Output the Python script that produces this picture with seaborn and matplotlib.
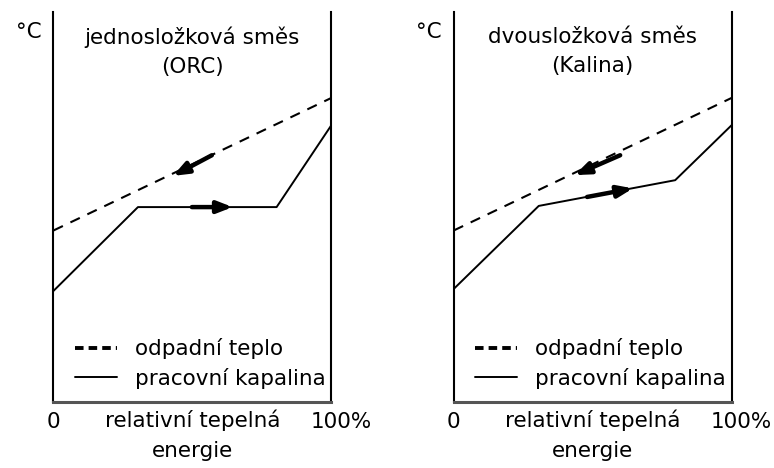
import numpy as np
import pandas as pd
import matplotlib
matplotlib.use("Agg")
import matplotlib.pyplot as plt
import matplotlib.transforms as mtransforms
import seaborn as sns

# ---------------------------
# DATA (x = relative heat %, y = temperature, arbitrary units)
# ---------------------------
waste_x = [0, 100]
waste_y = [44, 78]

orc_x = [0, 30.4, 80.3, 100]
orc_y = [28.5, 50, 50, 71]

kalina_x = [0, 30.6, 79.7, 100]
kalina_y = [29, 50.3, 56.9, 71]

# arrows: (start x, start y, end x, end y)
orc_arrows = [(57, 63.3, 43, 58.0), (49.8, 50, 64.5, 50)]
kalina_arrows = [(59.9, 63.3, 43.5, 58.2), (48, 52.6, 64.5, 54.8)]

titles = ["jednosložková směs\n(ORC)", "dvousložková směs\n(Kalina)"]
legend_labels = ["odpadní teplo", "pracovní kapalina"]
tick_labels = ["0", "100%"]
xlabel = "relativní tepelná\nenergie"

# ---------------------------
# PLOT
# ---------------------------
sns.set_style("white")
plt.rcParams["font.family"] = ["DejaVu Sans"]
plt.rcParams["text.color"] = "black"
plt.rcParams["xtick.color"] = "black"
plt.rcParams["axes.labelcolor"] = "black"
fs = 15.5

fig = plt.figure(figsize=(7.74, 4.68), dpi=100)
panels = [
    (0.0691, orc_x, orc_y, orc_arrows, titles[0]),
    (0.5862, kalina_x, kalina_y, kalina_arrows, titles[1]),
]

for left, px, py, arrows, title in panels:
    ax = fig.add_axes([left, 0.141, 0.359, 0.833])
    sns.lineplot(x=waste_x, y=waste_y, ax=ax, color="black", lw=1.5,
                 linestyle=(0, (5, 4)), label=legend_labels[0])
    sns.lineplot(x=px, y=py, ax=ax, color="black", lw=1.4,
                 label=legend_labels[1])
    for x0, y0, x1, y1 in arrows:
        ax.annotate("", xy=(x1, y1), xytext=(x0, y0),
                    arrowprops=dict(arrowstyle="-|>,head_length=0.9,head_width=0.35",
                                    color="black", lw=3.2, shrinkA=0, shrinkB=0))
    ax.set_xlim(0, 100)
    ax.set_ylim(0, 100)
    ax.set_yticks([])
    ax.set_xticks([0, 100])
    ax.set_xticklabels(tick_labels, fontsize=fs)
    ax.tick_params(axis="x", length=0, pad=7)
    lab = ax.get_xticklabels()[1]
    lab.set_transform(lab.get_transform() +
                      mtransforms.ScaledTranslation(0.1, 0, fig.dpi_scale_trans))
    ax.set_xlabel(xlabel, fontsize=fs, labelpad=-16, linespacing=1.6)
    ax.set_ylabel("")
    ax.spines["top"].set_visible(False)
    for s in ["left", "right"]:
        ax.spines[s].set_color("black")
        ax.spines[s].set_linewidth(1.5)
    ax.spines["bottom"].set_color("#555555")
    ax.spines["bottom"].set_linewidth(2.2)
    ax.text(0.5, 0.962, title, transform=ax.transAxes, ha="center", va="top",
            fontsize=fs, linespacing=1.55)
    ax.text(-0.09, 0.975, "°C", transform=ax.transAxes, ha="center", va="top",
            fontsize=fs)
    leg = ax.legend(loc="lower left", bbox_to_anchor=(0.046, 0.012), frameon=False,
                    fontsize=fs, handlelength=1.95, handletextpad=0.85,
                    labelspacing=0.4, borderaxespad=0)
    leg.get_lines()[0].set_linewidth(2.8)
    leg.get_lines()[0].set_linestyle((0, (2.2, 1.3)))

fig.savefig("out.png", dpi=100)
